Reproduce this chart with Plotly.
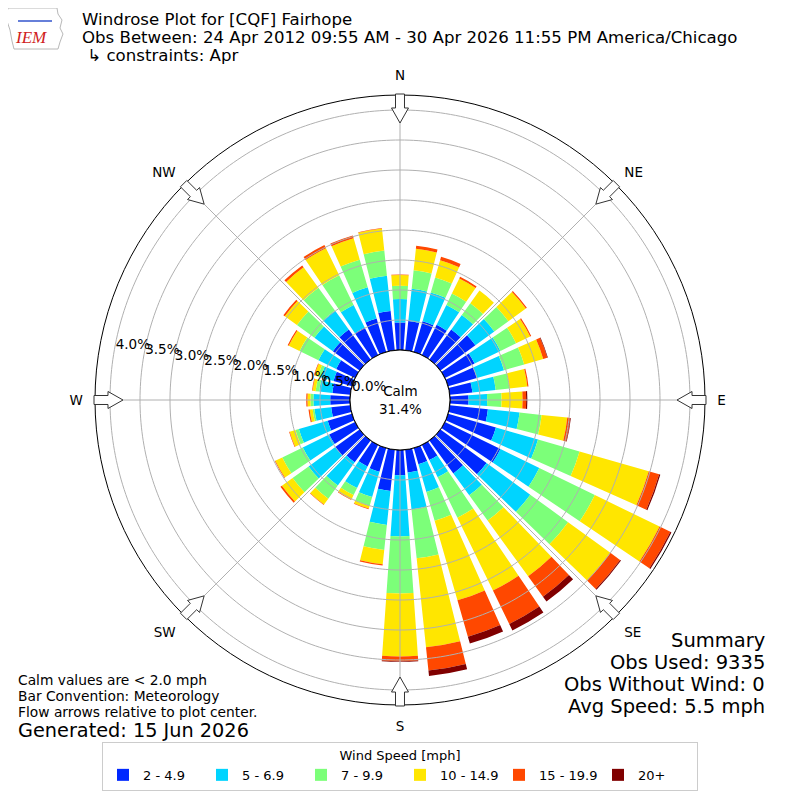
import numpy as np
import plotly.graph_objects as go

# Wind direction bins (degrees, meteorological: where the wind blows from)
directions = list(range(0, 360, 10))

speed_bins = ["2 - 4.9", "5 - 6.9", "7 - 9.9", "10 - 14.9", "15 - 19.9", "20+"]
bin_colors = ["#0028ff", "#00d4ff", "#7cff79", "#ffe600", "#ff4800", "#800000"]

# Frequency (% of all obs) per direction, one list per speed bin
pct_2_5 = [0.46, 0.49, 0.53, 0.56, 0.62, 0.72, 0.55, 0.50, 0.38, 0.31,
           0.64, 0.83, 1.03, 0.95, 0.68, 0.28, 0.28, 0.38, 0.42,
           0.69, 0.41, 0.40, 0.45, 0.50, 0.48, 0.42, 0.32, 0.33,
           0.30, 0.32, 0.35, 0.55, 0.62, 0.51, 0.58, 0.66]
pct_5_7 = [0.39, 0.54, 0.50, 0.37, 0.30, 0.39, 0.48, 0.47, 0.39, 0.31,
           0.53, 0.73, 0.72, 0.90, 0.45, 0.32, 0.48, 0.62, 1.02,
           0.57, 0.44, 0.40, 0.48, 0.55, 0.49, 0.50, 0.28, 0.28,
           0.22, 0.22, 0.33, 0.38, 0.39, 0.42, 0.54, 0.59]
pct_7_10 = [0.22, 0.31, 0.26, 0.21, 0.24, 0.29, 0.29, 0.35, 0.23, 0.24,
            0.37, 0.72, 1.03, 0.78, 0.52, 0.75, 0.50, 0.82, 0.95,
            0.42, 0.15, 0.13, 0.27, 0.33, 0.38, 0.06, 0.03, 0.05,
            0.06, 0.05, 0.35, 0.36, 0.47, 0.55, 0.48, 0.42]
pct_10_15 = [0.18, 0.36, 0.30, 0.28, 0.26, 0.36, 0.26, 0.33, 0.30, 0.35,
             0.43, 1.20, 1.20, 0.87, 1.15, 1.35, 1.38, 1.49, 1.05,
             0.24, 0.05, 0.08, 0.12, 0.22, 0.13, 0.10, 0.05, 0.05,
             0.05, 0.06, 0.20, 0.25, 0.42, 0.50, 0.37, 0.37]
pct_15_20 = [0.01, 0.05, 0.06, 0.03, 0.00, 0.02, 0.02, 0.07, 0.02, 0.06,
             0.05, 0.18, 0.20, 0.20, 0.42, 0.62, 0.63, 0.39, 0.08,
             0.02, 0.01, 0.01, 0.01, 0.03, 0.01, 0.01, 0.02, 0.02,
             0.01, 0.01, 0.02, 0.03, 0.04, 0.06, 0.05, 0.01]
pct_20_up = [0.00, 0.00, 0.00, 0.00, 0.00, 0.00, 0.00, 0.01, 0.00, 0.02,
             0.01, 0.02, 0.02, 0.02, 0.10, 0.12, 0.12, 0.09, 0.01,
             0.00, 0.00, 0.00, 0.00, 0.00, 0.00, 0.00, 0.00, 0.00,
             0.00, 0.00, 0.00, 0.00, 0.00, 0.00, 0.00, 0.00]

ring_vals = [0.0, 0.5, 1.0, 1.5, 2.0, 2.5, 3.0, 3.5, 4.0]
ring_text = ["0.0%", "0.5%", "1.0%", "1.5%", "2.0%", "2.5%", "3.0%", "3.5%", "4.0%"]
compass_deg = [0, 45, 90, 135, 180, 225, 270, 315]
compass_text = ["N", "NE", "E", "SE", "S", "SW", "W", "NW"]
calm_pct = 31.4

R_MAX = 4.25
OFF = 8          # the page body margin pushes the figure 8px right/down
W = H = 800 - OFF
PLOT_R = 305     # outer circle radius in px
CX = CY = 400    # centre of the rose on the page
GRID = "#b0b0b0"
FONT = "DejaVu Sans"


def px(x, y):
    """page pixel (from top-left) -> paper coords"""
    return (x - OFF) / W, 1 - (y - OFF) / H


def arrow_path(deg):
    # hollow block arrow on the outer ring, pointing to the centre
    a = np.radians(deg)
    u = np.array([np.sin(a), -np.cos(a)])   # page coords, y down
    p = np.array([np.cos(a), np.sin(a)])
    pts = [(306, -4.5), (292, -4.5), (292, -8.5), (277, 0), (292, 8.5), (292, 4.5), (306, 4.5)]
    xy = [px(CX + r * u[0] + w * p[0], CY + r * u[1] + w * p[1]) for r, w in pts]
    return "M" + "L".join(f"{x:.5f},{y:.5f}" for x, y in xy) + "Z"


series = [pct_2_5, pct_5_7, pct_7_10, pct_10_15, pct_15_20, pct_20_up]

fig = go.Figure()
for name, color, vals in zip(speed_bins, bin_colors, series):
    fig.add_trace(go.Barpolar(
        r=vals, theta=directions, width=8, name=name,
        marker=dict(color=color, line=dict(width=0)),
    ))

# grid drawn over the bars, like the matplotlib original
circle = np.linspace(0, 360, 361)
ring_r, ring_t = [], []
for v in ring_vals[1:]:
    ring_r += [v] * len(circle) + [None]
    ring_t += list(circle) + [None]
for a in compass_deg:
    ring_r += [0, R_MAX, None]
    ring_t += [a, a, None]
fig.add_trace(go.Scatterpolar(r=ring_r, theta=ring_t, mode="lines",
                              line=dict(color=GRID, width=1),
                              showlegend=False, hoverinfo="skip"))
fig.add_trace(go.Scatterpolar(r=[0] * len(circle), theta=circle, mode="lines",
                              line=dict(color="black", width=1),
                              showlegend=False, hoverinfo="skip"))

dx0, dy1 = px(CX - PLOT_R, CY - PLOT_R)
dx1, dy0 = px(CX + PLOT_R, CY + PLOT_R)
shapes = [dict(type="path", path=arrow_path(a), xref="paper", yref="paper",
               fillcolor="white", line=dict(color="#333333", width=1))
          for a in compass_deg]

# IEM logo (rough)
logo = [(8, 8), (57, 8), (58, 14), (62, 20), (60, 28), (63, 34), (60, 42), (58, 49),
        (14, 49), (12, 41), (10, 30), (6, 18), (8, 8)]
shapes.append(dict(type="path", xref="paper", yref="paper",
                   path="M" + "L".join("{:.5f},{:.5f}".format(*px(x, y)) for x, y in logo) + "Z",
                   line=dict(color="#b8b8b8", width=1), fillcolor="rgba(0,0,0,0)"))
lx0, ly0 = px(18, 21)
lx1, ly1 = px(52, 21)
shapes.append(dict(type="line", xref="paper", yref="paper", x0=lx0, y0=ly0, x1=lx1, y1=ly1,
                   line=dict(color="#3355cc", width=1.5)))

annotations = []


def add_text(text, x, y, size, xanchor="left", color="black", family=FONT):
    xp, yp = px(x, y)
    annotations.append(dict(text=text, x=xp, y=yp, xref="paper", yref="paper",
                            xanchor=xanchor, yanchor="middle", showarrow=False,
                            font=dict(size=size, color=color, family=family)))


add_text("<i>IEM</i>", 31, 38, 17, xanchor="center", color="#d02020", family="Liberation Serif")
add_text("Windrose Plot for [CQF] Fairhope", 80, 20, 16.6)
add_text("Obs Between: 24 Apr 2012 09:55 AM - 30 Apr 2026 11:55 PM America/Chicago", 80, 37, 16.6)
add_text(" ↳ constraints: Apr", 80, 55, 16.6)

add_text("Calm values are < 2.0 mph", 16, 680, 13.8)
add_text("Bar Convention: Meteorology", 16, 696, 13.8)
add_text("Flow arrows relative to plot center.", 16, 712, 13.8)
add_text("Generated: 15 Jun 2026", 16, 730, 19.3)

add_text("Summary", 767, 640, 19.5, xanchor="right")
add_text("Obs Used: 9335", 767, 662, 19.5, xanchor="right")
add_text("Obs Without Wind: 0", 767, 684, 19.5, xanchor="right")
add_text("Avg Speed: 5.5 mph", 767, 706, 19.5, xanchor="right")

add_text(f"Calm<br>{calm_pct:.1f}%", CX, CY, 13.5, xanchor="center")

lgx, lgy = px(CX, 742)
fig.update_layout(
    width=W, height=H,
    margin=dict(l=0, r=0, t=0, b=0),
    paper_bgcolor="white",
    font=dict(family=FONT, size=13, color="black"),
    polar=dict(
        domain=dict(x=[dx0, dx1], y=[dy0, dy1]),
        hole=50 / PLOT_R,
        bgcolor="white",
        barmode="stack",
        radialaxis=dict(range=[0, R_MAX], tickmode="array", tickvals=ring_vals,
                        ticktext=ring_text, showgrid=False, showline=False, ticks="",
                        angle=170, tickangle=170, tickfont=dict(size=13.5),
                        layer="above traces"),
        angularaxis=dict(rotation=90, direction="clockwise", tickmode="array",
                         tickvals=compass_deg, ticktext=compass_text, showgrid=False,
                         showline=True, linecolor="black", linewidth=1,
                         ticks="outside", ticklen=9, tickcolor="rgba(0,0,0,0)",
                         tickfont=dict(size=13.5)),
    ),
    legend=dict(orientation="h", x=lgx, xanchor="center", y=lgy, yanchor="top",
                title=dict(text="Wind Speed [mph]", side="top center", font=dict(size=13)),
                font=dict(size=13), bordercolor="#cccccc", borderwidth=1,
                entrywidth=54, traceorder="normal"),
    shapes=shapes,
    annotations=annotations,
)

fig.write_html("out.html")
